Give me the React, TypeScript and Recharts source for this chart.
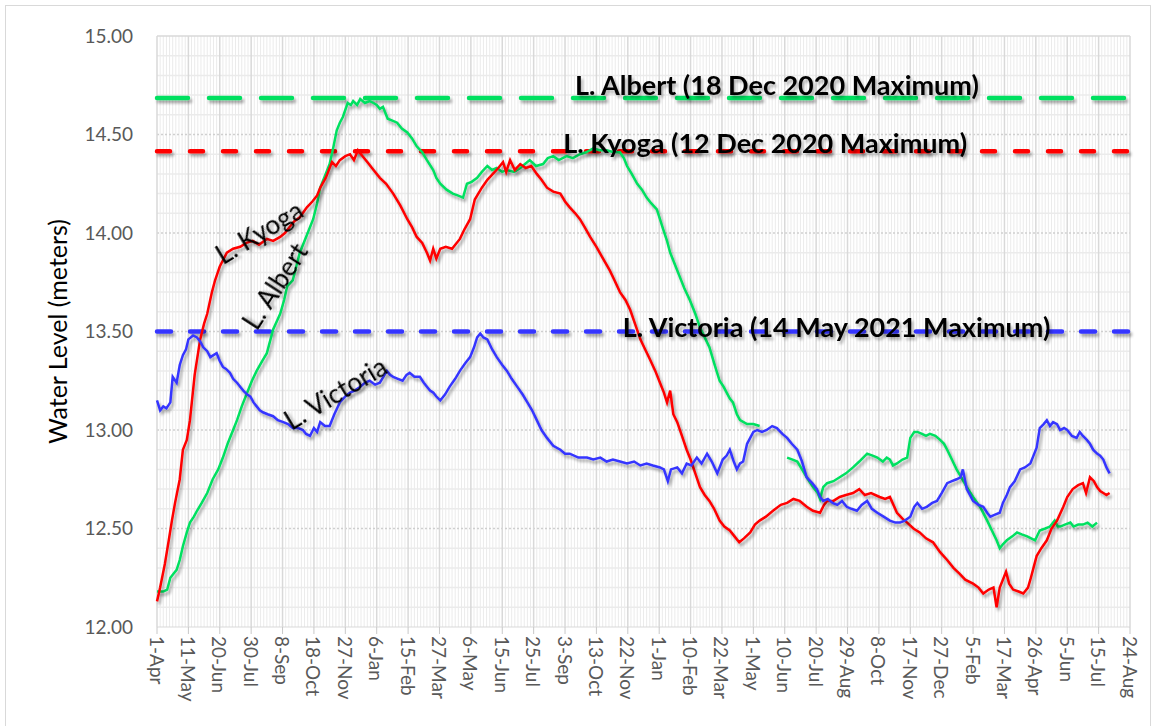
import React from 'react';
import { LineChart, Line, XAxis, YAxis, CartesianGrid, ReferenceDot } from 'recharts';

// x = days since 1-Apr-2020
const tickLabels = ['1-Apr','11-May','20-Jun','30-Jul','8-Sep','18-Oct','27-Nov','6-Jan','15-Feb','27-Mar','6-May','15-Jun','25-Jul','3-Sep','13-Oct','22-Nov','1-Jan','10-Feb','22-Mar','1-May','10-Jun','20-Jul','29-Aug','8-Oct','17-Nov','27-Dec','5-Feb','17-Mar','26-Apr','5-Jun','15-Jul','24-Aug'];
const tickStep = 40;
const tickDays = tickLabels.map((_, i) => i * tickStep);
const minorDays = Array.from({ length: 311 }, (_, i) => i * 4).filter((d) => d % tickStep !== 0);
const yTicks = [12, 12.5, 13, 13.5, 14, 14.5, 15];
const yMinor = Array.from({ length: 29 }, (_, i) => Math.round((12.1 + i * 0.1) * 10) / 10).filter((v) => Math.abs(v * 2 - Math.round(v * 2)) > 0.01);

const kyoga: [number, number][] = [[0,12.13],[4,12.2],[10,12.32],[15,12.44],[19,12.54],[23,12.63],[29,12.75],[33,12.9],[38,12.95],[42,13.05],[48,13.28],[55,13.46],[60,13.54],[64,13.59],[70,13.7],[74,13.76],[80,13.83],[89,13.9],[97,13.92],[106,13.93],[114,13.95],[122,13.96],[130,13.94],[140,13.97],[148,13.96],[157,13.98],[163,14.0],[169,14.03],[175,14.06],[182,14.08],[191,14.13],[198,14.16],[204,14.19],[208,14.23],[215,14.28],[223,14.36],[228,14.34],[233,14.37],[240,14.39],[246,14.4],[251,14.37],[256,14.42],[262,14.39],[268,14.36],[276,14.32],[284,14.28],[292,14.25],[301,14.2],[310,14.14],[319,14.07],[325,14.03],[331,13.98],[338,13.95],[344,13.9],[348,13.86],[352,13.92],[356,13.87],[361,13.92],[368,13.93],[376,13.92],[386,13.97],[392,14.02],[399,14.07],[405,14.17],[414,14.23],[421,14.27],[428,14.3],[435,14.33],[441,14.36],[445,14.31],[450,14.37],[456,14.32],[463,14.35],[470,14.33],[477,14.34],[484,14.3],[490,14.27],[497,14.23],[505,14.21],[514,14.2],[520,14.16],[526,14.13],[533,14.1],[539,14.07],[545,14.03],[552,13.98],[560,13.93],[567,13.88],[577,13.81],[583,13.76],[590,13.7],[597,13.66],[603,13.61],[610,13.53],[616,13.46],[622,13.41],[628,13.36],[635,13.3],[641,13.24],[646,13.19],[650,13.14],[654,13.2],[658,13.08],[663,13.04],[669,12.97],[675,12.9],[680,12.85],[686,12.78],[692,12.71],[698,12.67],[704,12.64],[710,12.6],[717,12.54],[723,12.51],[730,12.49],[736,12.46],[742,12.43],[748,12.45],[756,12.48],[762,12.52],[768,12.54],[776,12.56],[785,12.59],[795,12.62],[803,12.63],[811,12.65],[819,12.64],[828,12.61],[836,12.59],[845,12.58],[850,12.62],[854,12.64],[862,12.64],[870,12.66],[878,12.67],[887,12.68],[895,12.7],[902,12.67],[910,12.68],[921,12.66],[928,12.65],[934,12.66],[943,12.58],[950,12.55],[956,12.53],[964,12.5],[972,12.48],[980,12.45],[989,12.43],[998,12.38],[1007,12.34],[1015,12.3],[1023,12.27],[1030,12.24],[1040,12.22],[1047,12.2],[1053,12.17],[1060,12.19],[1066,12.2],[1070,12.1],[1074,12.2],[1078,12.24],[1082,12.28],[1086,12.22],[1091,12.19],[1098,12.18],[1104,12.17],[1110,12.2],[1113,12.24],[1117,12.3],[1121,12.36],[1127,12.4],[1134,12.44],[1140,12.5],[1147,12.54],[1155,12.61],[1160,12.66],[1167,12.7],[1174,12.72],[1180,12.73],[1184,12.68],[1189,12.76],[1194,12.74],[1198,12.71],[1202,12.69],[1206,12.68],[1210,12.67],[1214,12.68]];

const albert: [number, number | null][] = [[0,12.18],[8,12.18],[13,12.19],[17,12.25],[21,12.27],[25,12.29],[29,12.34],[33,12.41],[38,12.48],[42,12.53],[47,12.56],[51,12.59],[57,12.63],[64,12.68],[71,12.75],[78,12.8],[84,12.86],[90,12.93],[97,13.0],[102,13.05],[108,13.12],[115,13.19],[121,13.25],[127,13.3],[134,13.35],[140,13.39],[148,13.51],[157,13.59],[162,13.66],[166,13.73],[173,13.76],[182,13.9],[190,13.98],[199,14.07],[204,14.15],[208,14.23],[214,14.29],[220,14.35],[225,14.44],[229,14.52],[233,14.56],[237,14.59],[243,14.66],[247,14.65],[250,14.67],[255,14.65],[259,14.68],[265,14.66],[271,14.67],[276,14.66],[280,14.65],[284,14.63],[288,14.64],[294,14.58],[300,14.57],[306,14.56],[312,14.53],[319,14.51],[325,14.48],[331,14.44],[338,14.41],[344,14.37],[352,14.32],[356,14.28],[361,14.25],[369,14.22],[377,14.2],[384,14.19],[390,14.18],[395,14.25],[401,14.26],[408,14.28],[414,14.31],[421,14.34],[427,14.32],[433,14.33],[440,14.31],[446,14.32],[455,14.31],[463,14.33],[469,14.35],[475,14.37],[483,14.34],[492,14.35],[498,14.38],[505,14.39],[512,14.37],[522,14.39],[530,14.38],[539,14.4],[547,14.41],[556,14.43],[564,14.42],[573,14.42],[582,14.41],[590,14.41],[595,14.38],[599,14.34],[605,14.3],[612,14.25],[618,14.22],[624,14.18],[630,14.15],[637,14.12],[641,14.07],[645,14.02],[650,13.96],[654,13.9],[660,13.84],[666,13.78],[672,13.72],[679,13.66],[686,13.59],[692,13.52],[698,13.47],[704,13.42],[710,13.34],[717,13.25],[722,13.22],[726,13.19],[730,13.16],[734,13.14],[739,13.08],[743,13.05],[752,13.03],[760,13.03],[768,13.02],[785,null],[803,12.86],[810,12.85],[816,12.84],[822,12.8],[828,12.76],[836,12.71],[842,12.68],[845,12.65],[849,12.71],[854,12.73],[862,12.74],[870,12.76],[878,12.78],[887,12.81],[895,12.84],[900,12.86],[905,12.88],[912,12.87],[918,12.86],[925,12.84],[930,12.86],[934,12.85],[938,12.82],[943,12.83],[950,12.85],[956,12.86],[960,12.96],[965,12.99],[969,12.99],[975,12.98],[980,12.97],[985,12.98],[992,12.97],[998,12.95],[1003,12.93],[1007,12.9],[1013,12.85],[1019,12.8],[1025,12.76],[1032,12.71],[1040,12.66],[1049,12.61],[1058,12.54],[1064,12.49],[1070,12.44],[1074,12.4],[1078,12.42],[1083,12.44],[1090,12.46],[1096,12.48],[1102,12.47],[1109,12.46],[1114,12.45],[1119,12.44],[1125,12.49],[1132,12.5],[1138,12.51],[1144,12.54],[1148,12.51],[1151,12.51],[1157,12.52],[1164,12.53],[1168,12.51],[1174,12.52],[1180,12.52],[1186,12.53],[1192,12.51],[1198,12.53]];

const victoria: [number, number][] = [[0,13.15],[4,13.1],[8,13.12],[12,13.11],[17,13.14],[20,13.27],[25,13.24],[29,13.33],[33,13.38],[37,13.41],[40,13.46],[46,13.48],[51,13.47],[55,13.45],[59,13.42],[64,13.4],[68,13.37],[72,13.38],[76,13.39],[80,13.35],[84,13.32],[88,13.31],[93,13.29],[97,13.26],[102,13.24],[106,13.22],[110,13.2],[115,13.18],[119,13.17],[123,13.14],[127,13.12],[131,13.1],[135,13.09],[141,13.08],[148,13.07],[154,13.05],[161,13.04],[167,13.03],[173,13.01],[180,13.01],[186,13.0],[190,12.98],[195,12.97],[200,13.01],[204,12.99],[208,13.04],[214,13.02],[220,13.02],[226,13.08],[233,13.14],[240,13.17],[246,13.19],[252,13.2],[259,13.22],[265,13.24],[271,13.25],[278,13.23],[284,13.24],[290,13.28],[293,13.3],[297,13.28],[301,13.27],[307,13.26],[313,13.25],[318,13.28],[322,13.29],[328,13.27],[335,13.27],[340,13.24],[344,13.22],[348,13.2],[352,13.19],[356,13.17],[361,13.15],[367,13.18],[373,13.22],[380,13.26],[386,13.3],[393,13.34],[399,13.37],[404,13.42],[408,13.47],[412,13.49],[416,13.47],[421,13.46],[427,13.41],[433,13.37],[440,13.33],[446,13.3],[452,13.26],[459,13.22],[466,13.18],[472,13.14],[478,13.1],[484,13.05],[490,13.0],[497,12.96],[505,12.92],[514,12.9],[520,12.88],[526,12.88],[537,12.86],[548,12.86],[556,12.85],[565,12.86],[573,12.84],[581,12.85],[590,12.84],[599,12.83],[608,12.84],[616,12.82],[624,12.83],[632,12.82],[641,12.81],[646,12.8],[651,12.74],[655,12.8],[663,12.81],[669,12.78],[675,12.83],[681,12.82],[688,12.86],[694,12.83],[701,12.88],[707,12.84],[714,12.78],[718,12.82],[721,12.85],[726,12.87],[730,12.9],[735,12.84],[739,12.8],[743,12.83],[747,12.84],[752,12.93],[756,12.96],[760,12.99],[765,13.0],[771,12.99],[777,13.0],[784,13.02],[790,13.01],[797,12.98],[803,12.96],[809,12.93],[816,12.9],[822,12.84],[828,12.76],[835,12.73],[841,12.7],[845,12.66],[849,12.64],[855,12.65],[861,12.63],[867,12.62],[873,12.64],[879,12.61],[885,12.6],[892,12.59],[898,12.62],[905,12.64],[911,12.6],[918,12.58],[926,12.56],[934,12.54],[941,12.53],[947,12.53],[953,12.54],[960,12.56],[965,12.61],[969,12.63],[975,12.6],[981,12.61],[988,12.63],[994,12.64],[1000,12.68],[1007,12.73],[1013,12.74],[1019,12.75],[1024,12.76],[1027,12.8],[1030,12.74],[1032,12.7],[1036,12.67],[1040,12.64],[1047,12.62],[1053,12.61],[1058,12.58],[1062,12.56],[1068,12.57],[1074,12.58],[1078,12.63],[1083,12.67],[1087,12.71],[1093,12.74],[1100,12.8],[1106,12.81],[1113,12.83],[1117,12.87],[1121,12.91],[1125,13.01],[1130,13.03],[1134,13.05],[1138,13.02],[1142,13.04],[1147,13.03],[1151,13.0],[1156,13.01],[1160,13.0],[1166,12.97],[1172,12.96],[1176,12.99],[1180,12.97],[1185,12.95],[1189,12.93],[1193,12.9],[1198,12.88],[1202,12.87],[1206,12.85],[1210,12.81],[1214,12.78]];

const albertMax = 14.685;
const kyogaMax = 14.415;
const victoriaMax = 13.5;
const maxLabels = ['L. Albert  (18 Dec 2020 Maximum)', 'L. Kyoga (12 Dec 2020 Maximum)', 'L. Victoria (14 May 2021 Maximum)'];
const maxLabelDays = [790, 775, 866];
const lakeNames = ['L. Kyoga', 'L. Albert', 'L. Victoria'];
const lakeLabelAt: [number, number][] = [[130, 14.005], [150, 13.73], [227, 13.19]];
const lakeLabelAngles = [-31, -57, -31];

const toRows = (arr: [number, number | null][]) => arr.map(([day, level]) => ({ day, level }));
const flat = (v: number) => [{ day: 0, level: v }, { day: tickDays[tickDays.length - 1], level: v }];

const RED = '#ff0000';
const GREEN = '#00e060';
const BLUE = '#3636ff';
const FONT = 'Lato, "Open Sans", sans-serif';

const XTick = (props: any) => {
  const { x, y, payload } = props;
  const label = tickLabels[Math.round(payload.value / tickStep)];
  return (
    <text x={x} y={y} transform={`rotate(90, ${x}, ${y})`} textAnchor="start" dominantBaseline="central" fill="#595959" fontSize={19} fontFamily={FONT}>
      {label}
    </text>
  );
};

const maxLabelShape = (text: string, dy: number) => (props: any) => (
  <text x={props.cx} y={props.cy} dy={dy} textAnchor="middle" fontSize={27} fontWeight={700} fontFamily={FONT} fill="#000" filter="url(#txtShadow)">
    {text}
  </text>
);

const lakeLabelShape = (text: string, angle: number) => (props: any) => (
  <text x={props.cx} y={props.cy} transform={`rotate(${angle}, ${props.cx}, ${props.cy})`} textAnchor="middle" dominantBaseline="central" fontSize={26} fontFamily={FONT} fill="#000" filter="url(#txtShadow)">
    {text}
  </text>
);

export default function App() {
  return (
    <div style={{ position: 'absolute', left: 0, top: 0, width: 1156, height: 726, background: '#fff', overflow: 'hidden' }}>
      <div style={{ position: 'absolute', left: 5, top: 5, width: 1146, height: 740, border: '1px solid #d9d9d9', boxSizing: 'border-box' }} />
      <style>{`.lake-line path { filter: url(#lineShadow); }`}</style>
      <div style={{ position: 'absolute', left: 0, top: 0 }}>
        <LineChart width={1156} height={726} margin={{ top: 36, right: 26, bottom: 9, left: 40 }}>
          <defs>
            <filter id="lineShadow" filterUnits="userSpaceOnUse" x="0" y="0" width="1156" height="726">
              <feGaussianBlur in="SourceAlpha" stdDeviation="1.5" />
              <feOffset dx="2" dy="3" result="ob" />
              <feComponentTransfer><feFuncA type="linear" slope="0.35" /></feComponentTransfer>
              <feMerge><feMergeNode /><feMergeNode in="SourceGraphic" /></feMerge>
            </filter>
            <filter id="txtShadow" filterUnits="userSpaceOnUse" x="0" y="0" width="1156" height="726">
              <feGaussianBlur in="SourceAlpha" stdDeviation="1.5" />
              <feOffset dx="2" dy="3" result="ob" />
              <feComponentTransfer><feFuncA type="linear" slope="0.3" /></feComponentTransfer>
              <feMerge><feMergeNode /><feMergeNode in="SourceGraphic" /></feMerge>
            </filter>
          </defs>
          <CartesianGrid horizontal={false} verticalValues={minorDays} stroke="#ebebeb" strokeWidth={1} />
          <CartesianGrid vertical={false} horizontalValues={yMinor} stroke="#ebebeb" strokeWidth={1.5} />
          <CartesianGrid vertical={false} horizontalValues={[12.5, 13, 13.5, 14, 14.5]} stroke="#cfcfcf" strokeWidth={1.5} strokeDasharray="2 2" />
          <CartesianGrid vertical={false} horizontalValues={[15]} stroke="#d9d9d9" strokeWidth={1.5} />
          <CartesianGrid horizontal={false} verticalValues={tickDays} stroke="#d9d9d9" strokeWidth={1.5} />
          <XAxis
            dataKey="day"
            type="number"
            domain={[0, tickDays[tickDays.length - 1]]}
            ticks={tickDays}
            interval={0}
            height={90}
            tick={<XTick />}
            tickSize={7}
            tickMargin={2}
            stroke="#d9d9d9"
            tickLine={{ stroke: '#c8c8c8' }}
            allowDuplicatedCategory={false}
          />
          <YAxis
            type="number"
            domain={[12, 15]}
            ticks={yTicks}
            interval={0}
            width={117}
            axisLine={false}
            tickLine={false}
            tickSize={0}
            tickMargin={24}
            tickFormatter={(v: number) => v.toFixed(2)}
            tick={{ fill: '#595959', fontSize: 19, fontFamily: FONT }}
            label={{ value: 'Water Level (meters)', angle: -90, position: 'insideLeft', offset: 18, style: { textAnchor: 'middle', fill: '#000', fontSize: 25, fontFamily: FONT } }}
          />
          <Line className="lake-line" data={flat(albertMax)} dataKey="level" stroke={GREEN} strokeWidth={4.5} strokeDasharray="31 21" strokeLinecap="round" dot={false} activeDot={false} isAnimationActive={false} />
          <Line className="lake-line" data={flat(kyogaMax)} dataKey="level" stroke={RED} strokeWidth={4.5} strokeDasharray="13 20" strokeLinecap="round" dot={false} activeDot={false} isAnimationActive={false} />
          <Line className="lake-line" data={flat(victoriaMax)} dataKey="level" stroke={BLUE} strokeWidth={4.5} strokeDasharray="14 19" strokeLinecap="round" dot={false} activeDot={false} isAnimationActive={false} />
          <Line className="lake-line" data={toRows(albert)} dataKey="level" type="linear" stroke={GREEN} strokeWidth={2.5} dot={false} activeDot={false} connectNulls={false} isAnimationActive={false} />
          <Line className="lake-line" data={toRows(kyoga)} dataKey="level" type="linear" stroke={RED} strokeWidth={2.5} dot={false} activeDot={false} isAnimationActive={false} />
          <Line className="lake-line" data={toRows(victoria)} dataKey="level" type="linear" stroke={BLUE} strokeWidth={2.5} dot={false} activeDot={false} isAnimationActive={false} />
          <ReferenceDot x={maxLabelDays[0]} y={albertMax} r={0} ifOverflow="visible" shape={maxLabelShape(maxLabels[0], -3)} />
          <ReferenceDot x={maxLabelDays[1]} y={kyogaMax} r={0} ifOverflow="visible" shape={maxLabelShape(maxLabels[1], 2)} />
          <ReferenceDot x={maxLabelDays[2]} y={victoriaMax} r={0} ifOverflow="visible" shape={maxLabelShape(maxLabels[2], 5)} />
          {lakeNames.map((n, i) => (
            <ReferenceDot key={n} x={lakeLabelAt[i][0]} y={lakeLabelAt[i][1]} r={0} ifOverflow="visible" shape={lakeLabelShape(n, lakeLabelAngles[i])} />
          ))}
        </LineChart>
      </div>
    </div>
  );
}
